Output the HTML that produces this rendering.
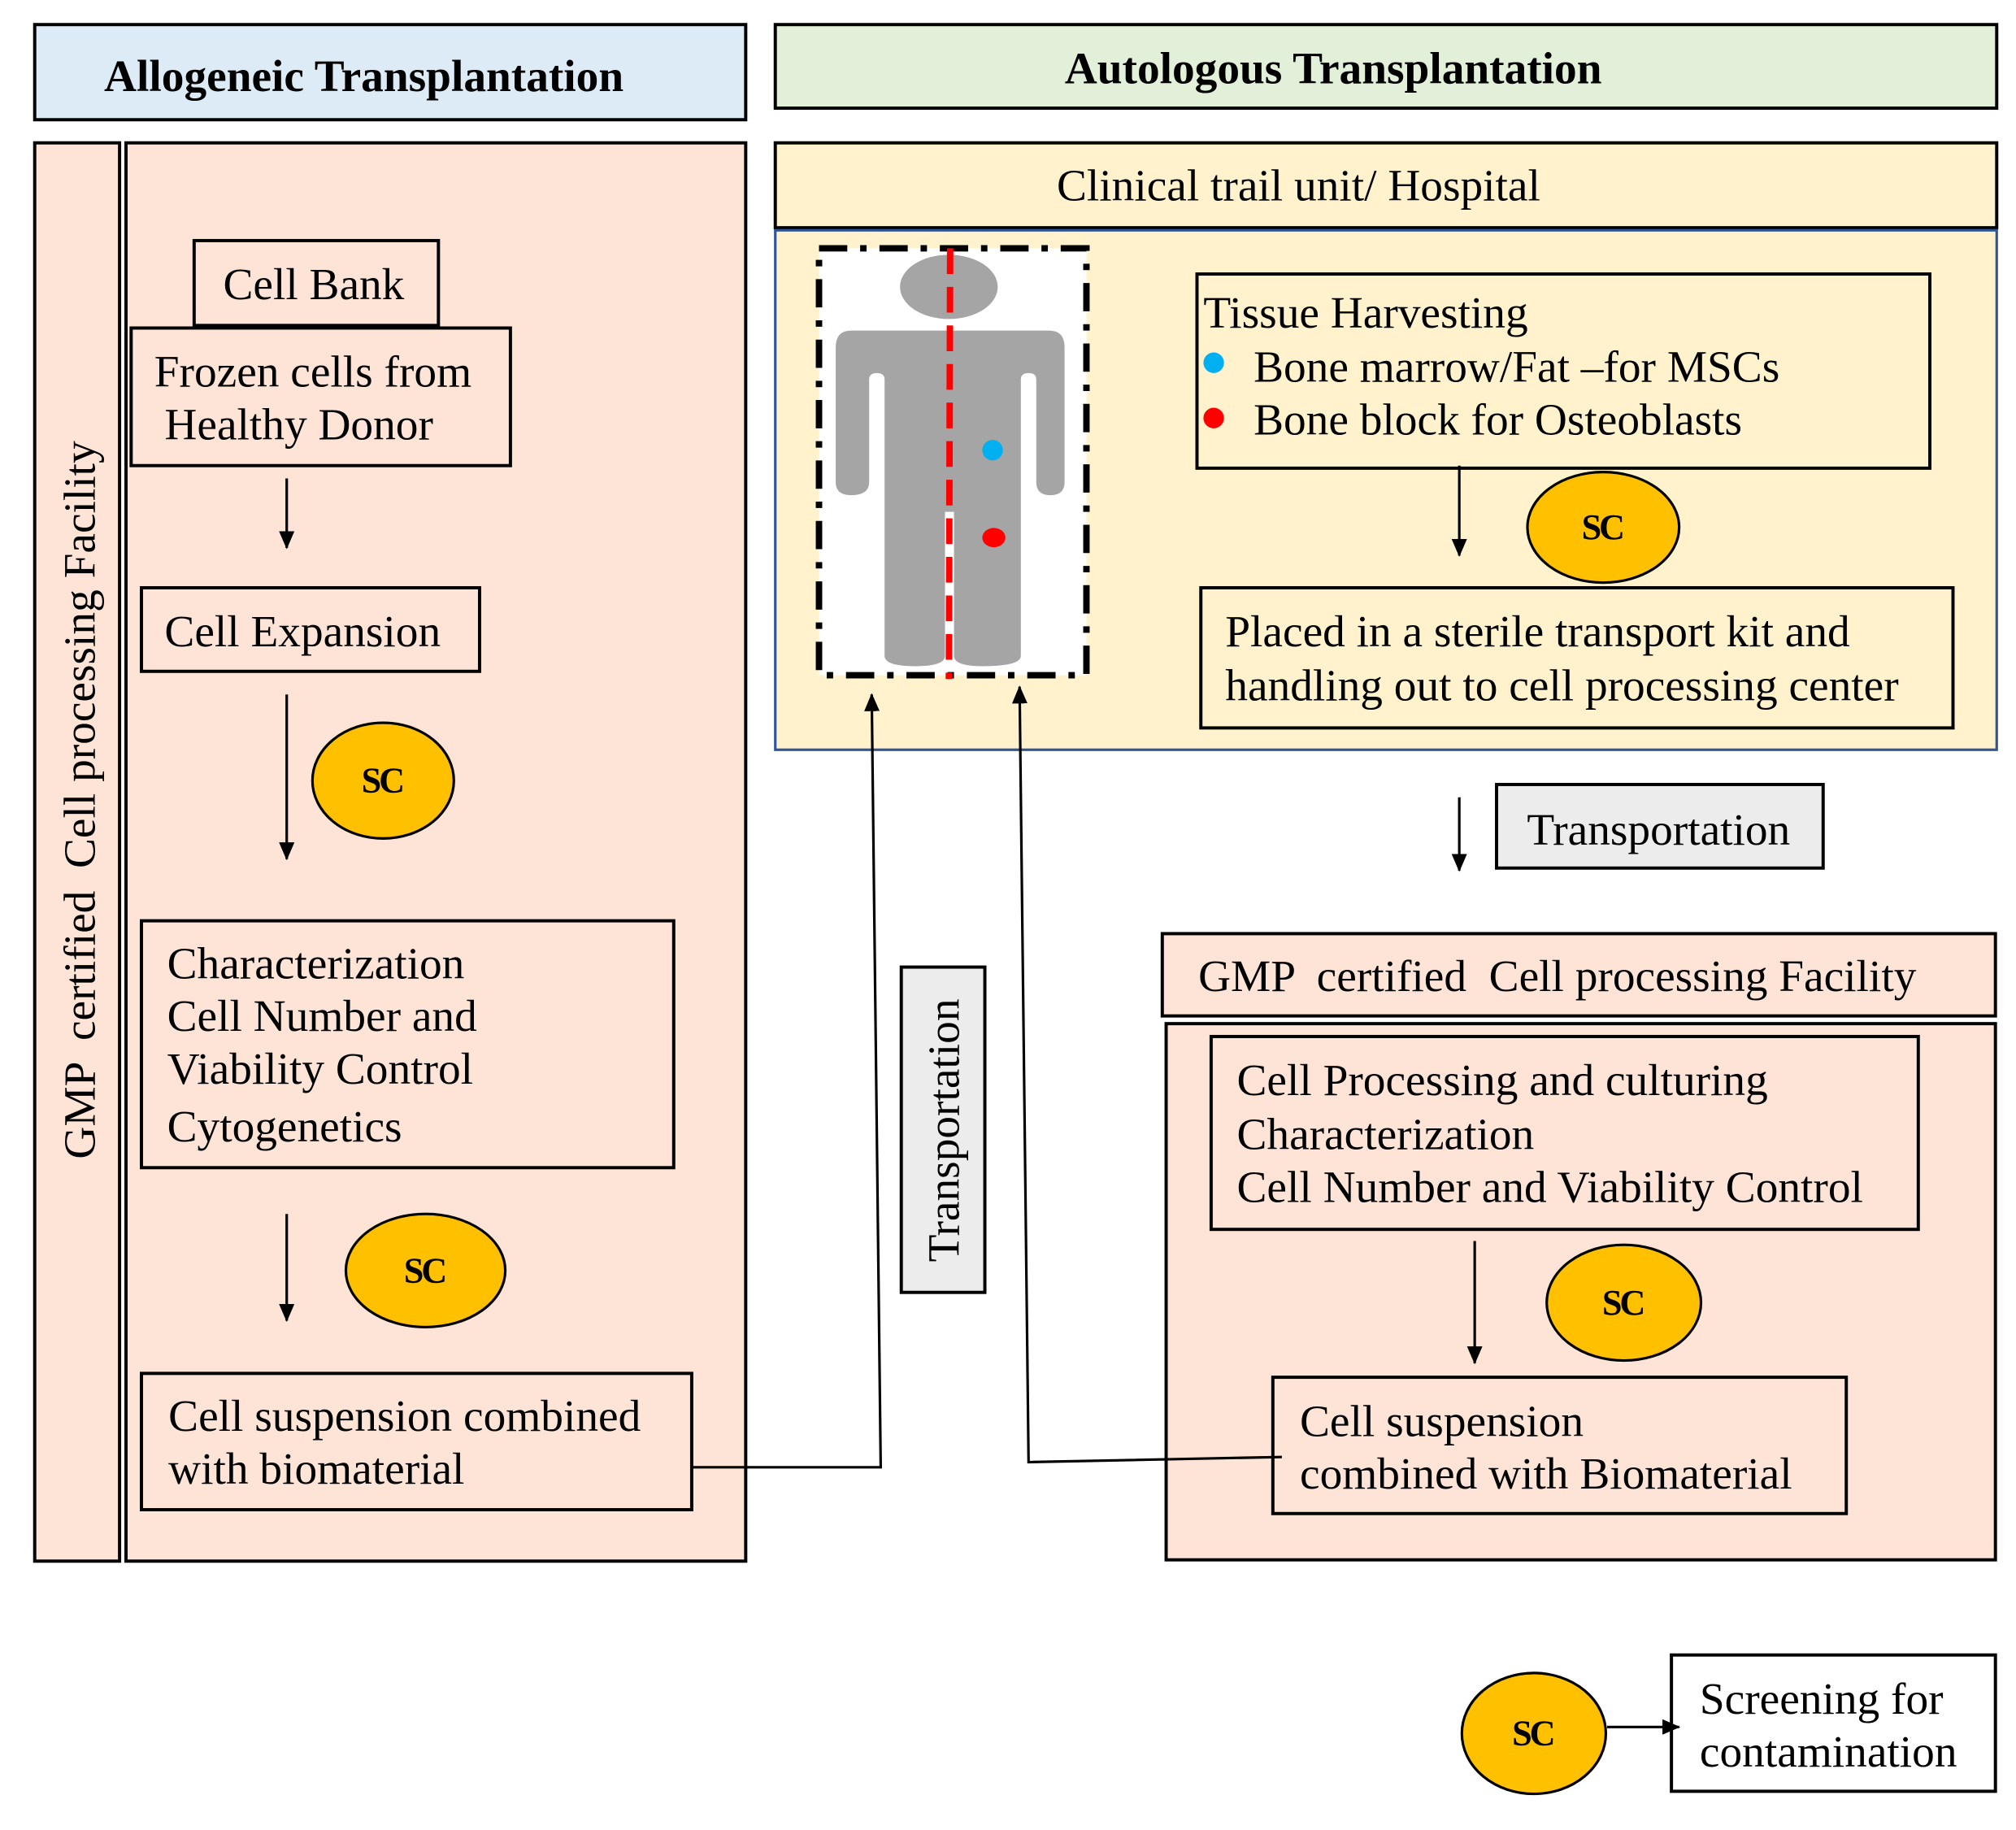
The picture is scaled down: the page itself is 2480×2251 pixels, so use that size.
<!DOCTYPE html>
<html><head><meta charset="utf-8"><style>html,body{margin:0;padding:0;background:#fff}svg{display:block}</style></head>
<body>
<svg width="2480" height="2251" viewBox="0 0 1568 1423" xmlns="http://www.w3.org/2000/svg" font-family="'Liberation Serif', serif">
<defs>
<marker id="ah" markerWidth="14" markerHeight="12" refX="13" refY="6" orient="auto" markerUnits="userSpaceOnUse" viewBox="0 0 14 12">
<path d="M0,0 L14,6 L0,12 z" fill="#000"/>
</marker>
</defs>
<g stroke="#000" stroke-width="2.5">
<rect x="27" y="19" width="553" height="74" fill="#ddebf7"/>
<rect x="603" y="19" width="950" height="65" fill="#e2f0d9"/>
<rect x="27" y="111" width="66" height="1103" fill="#fde4d6"/>
<rect x="98" y="111" width="482" height="1103" fill="#fde4d6"/>
<rect x="603" y="111" width="950" height="66" fill="#fff2cc"/>
</g>
<rect x="603" y="179" width="950" height="404" fill="#fff2cc" stroke="#2f5597" stroke-width="2"/>
<g font-weight="bold" font-size="35" text-anchor="middle" dominant-baseline="central">
<text x="283" y="59">Allogeneic Transplantation</text>
<text x="1037" y="53">Autologous Transplantation</text>
</g>
<text x="62" y="622" font-size="35" text-anchor="middle" dominant-baseline="central" transform="rotate(-90 62 622)" xml:space="preserve">GMP  certified  Cell processing Facility</text>
<text x="1010" y="144" font-size="35" text-anchor="middle" dominant-baseline="central">Clinical trail unit/ Hospital</text>

<g stroke="#000" stroke-width="2.5" fill="none">
<rect x="151" y="187" width="190" height="66"/>
<rect x="102" y="255" width="295" height="107"/>
<rect x="110" y="457" width="263" height="65"/>
<rect x="110" y="716" width="414" height="192"/>
<rect x="110" y="1068" width="428" height="106"/>
<rect x="931" y="213" width="570" height="151"/>
<rect x="934" y="457" width="585" height="109"/>
<rect x="1164" y="610" width="254" height="65" fill="#ececec"/>
<rect x="701" y="752" width="65" height="253" fill="#ececec"/>
<rect x="904" y="726" width="648" height="64" fill="#fde4d6"/>
<rect x="907" y="796" width="645" height="417" fill="#fde4d6"/>
<rect x="942" y="806" width="550" height="150"/>
<rect x="990" y="1071" width="446" height="106"/>
<rect x="1300" y="1287" width="252" height="106" fill="#fff"/>
</g>

<!-- human panel -->
<rect x="637" y="193" width="208" height="332" fill="#fff"/>
<rect x="637" y="193" width="208" height="332" fill="none" stroke="#000" stroke-width="5" stroke-dasharray="22,10,5,10"/>
<g fill="#a5a5a5">
<ellipse cx="738" cy="223" rx="38" ry="25"/>
<path d="M662,257 L816,257 Q828,257 828,270 L828,375 Q828,385 817,385 Q806,385 806,375 L806,295 Q806,290 800,290 Q794,290 794,295 L794,510 Q794,518 764,518 Q742,518 742,510 L742,398 L735,398 L735,510 Q735,518 712,518 Q688,518 688,510 L688,295 Q688,290 682,290 Q676,290 676,295 L676,375 Q676,385 662,385 Q650,385 650,375 L650,270 Q650,257 662,257 Z"/>
</g>
<line x1="739" y1="193" x2="738" y2="528" stroke="#f00" stroke-width="5" stroke-dasharray="20,10"/>
<circle cx="772" cy="350" r="8" fill="#00b0f0"/>
<ellipse cx="773" cy="418" rx="9" ry="7.5" fill="#f00"/>

<!-- arrows -->
<g stroke="#000" stroke-width="2" fill="none">
<line x1="223" y1="372" x2="223" y2="426" marker-end="url(#ah)"/>
<line x1="223" y1="540" x2="223" y2="668" marker-end="url(#ah)"/>
<line x1="223" y1="944" x2="223" y2="1027" marker-end="url(#ah)"/>
<line x1="1135" y1="362" x2="1135" y2="432" marker-end="url(#ah)"/>
<line x1="1135" y1="620" x2="1135" y2="677" marker-end="url(#ah)"/>
<line x1="1147" y1="965" x2="1147" y2="1060" marker-end="url(#ah)"/>
<line x1="1250" y1="1343" x2="1306" y2="1343" marker-end="url(#ah)"/>
<polyline points="538,1141 685,1141 678,540" marker-end="url(#ah)"/>
<polyline points="997,1133 800,1137 793,534" marker-end="url(#ah)"/>
</g>

<!-- SC ellipses -->
<g fill="#ffc000" stroke="#000" stroke-width="2">
<ellipse cx="298" cy="607" rx="55" ry="45"/>
<ellipse cx="331" cy="988" rx="62" ry="44"/>
<ellipse cx="1247" cy="410" rx="59" ry="43"/>
<ellipse cx="1263" cy="1013" rx="60" ry="45"/>
<ellipse cx="1193" cy="1348" rx="56" ry="47"/>
</g>
<g font-weight="bold" font-size="28" text-anchor="middle" dominant-baseline="central" letter-spacing="-2">
<text x="297" y="607">SC</text>
<text x="330" y="988">SC</text>
<text x="1246" y="410">SC</text>
<text x="1262" y="1013">SC</text>
<text x="1192" y="1348">SC</text>
</g>

<g font-size="35" dominant-baseline="central">
<text x="244" y="221" text-anchor="middle">Cell Bank</text>
<text x="120" y="289">Frozen cells from</text>
<text x="128" y="330">Healthy Donor</text>
<text x="128" y="491">Cell Expansion</text>
<text x="130" y="749">Characterization</text>
<text x="130" y="790">Cell Number and</text>
<text x="130" y="831">Viability Control</text>
<text x="130" y="876">Cytogenetics</text>
<text x="131" y="1101">Cell suspension combined</text>
<text x="131" y="1142">with biomaterial</text>
<text x="936" y="243">Tissue Harvesting</text>
<text x="975" y="285">Bone marrow/Fat –for MSCs</text>
<text x="975" y="326">Bone block for Osteoblasts</text>
<text x="953" y="491">Placed in a sterile transport kit and</text>
<text x="953" y="533">handling out to cell processing center</text>
<text x="1290" y="645" text-anchor="middle">Transportation</text>
<text x="932" y="759" xml:space="preserve">GMP  certified  Cell processing Facility</text>
<text x="962" y="840">Cell Processing and culturing</text>
<text x="962" y="882">Characterization</text>
<text x="962" y="923">Cell Number and Viability Control</text>
<text x="1011" y="1105">Cell suspension</text>
<text x="1011" y="1146">combined with Biomaterial</text>
<text x="1322" y="1321">Screening for</text>
<text x="1322" y="1362">contamination</text>
<text x="734" y="879" text-anchor="middle" transform="rotate(-90 734 879)">Transportation</text>
</g>
<circle cx="944" cy="282" r="8" fill="#00b0f0"/>
<circle cx="944" cy="325" r="8" fill="#f00"/>
</svg>
</body></html>
